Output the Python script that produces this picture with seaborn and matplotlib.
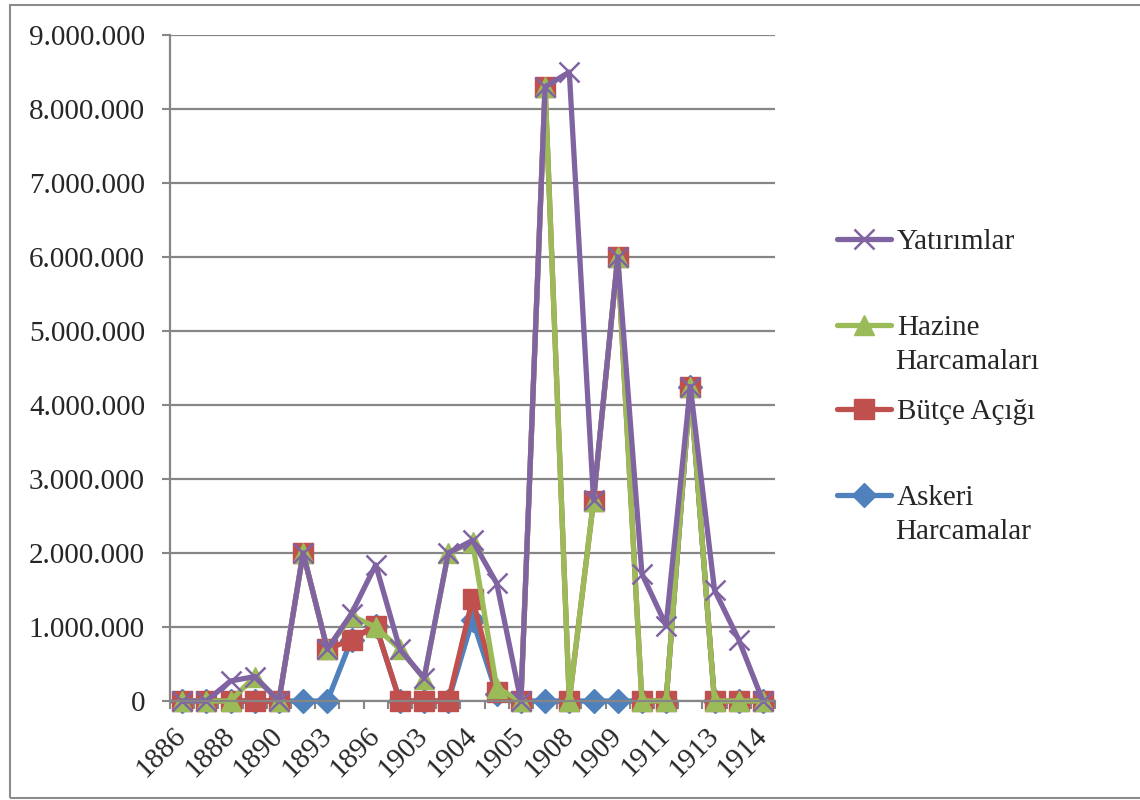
import matplotlib
matplotlib.use("Agg")
import matplotlib.pyplot as plt
from matplotlib.lines import Line2D
from matplotlib.patches import Rectangle
from matplotlib.ticker import FuncFormatter, FixedLocator
import seaborn as sns
import pandas as pd
import numpy as np

# ---------------- data ----------------
years = ["1886", "1887", "1888", "1889", "1890", "1891", "1893", "1894", "1896",
         "1902", "1903", "1903", "1904", "1904", "1905", "1907", "1908", "1908",
         "1909", "1910", "1911", "1912", "1913", "1913", "1914"]

yatirimlar = [0, 0, 270000, 330000, 0, 2000000, 700000, 1180000, 1840000, 700000,
              310000, 2000000, 2170000, 1590000, 0, 8300000, 8500000, 2720000,
              6000000, 1720000, 1020000, 4250000, 1500000, 830000, 0]
hazine = [0, 0, 0, 330000, 0, 2000000, 700000, 1150000, 1000000, 700000,
          300000, 2000000, 2150000, 180000, 0, 8300000, 0, 2700000,
          6000000, 0, 0, 4250000, 0, 0, 0]
butce = [0, 0, 0, 0, 0, 2000000, 700000, 830000, 1020000, 0,
         0, 0, 1380000, 120000, 0, 8300000, 0, 2700000,
         6000000, 0, 0, 4250000, 0, 0, 0]
askeri = [0, 0, 0, 0, 0, 0, 0, 830000, 1020000, 0,
          0, 0, 1100000, 100000, 0, 0, 0, 0,
          0, 0, 0, 4250000, 0, 0, 0]

series_names = ["Askeri\nHarcamalar", "Bütçe Açığı", "Hazine\nHarcamaları", "Yatırımlar"]
series_values = [askeri, butce, hazine, yatirimlar]
y_ticks = [0, 1000000, 2000000, 3000000, 4000000, 5000000, 6000000, 7000000, 8000000, 9000000]

# ---------------- style ----------------
sns.set_theme(style="white")
plt.rcParams["font.family"] = ["Liberation Serif", "DejaVu Serif"]
FS = 21
GRID = "#868686"

colors = ["#4F81BD", "#C0504D", "#9BBB59", "#8064A2"]
markers = ["D", "s", "^", "x"]
msizes = [12, 14, 14, 14]
mews = [1, 1, 1, 1.8]

fig = plt.figure(figsize=(11.4, 8), dpi=100)
ax = fig.add_axes([170 / 1140, 1 - 701 / 800, (775 - 170) / 1140, (701 - 35) / 800])

x_idx = np.arange(len(years))
for name, vals, c, m, ms, mew in zip(series_names, series_values, colors, markers, msizes, mews):
    df = pd.DataFrame({"idx": x_idx, "value": vals})
    sns.lineplot(data=df, x="idx", y="value", ax=ax, color=c, linewidth=3.8,
                 marker=m, markersize=ms, markeredgecolor=c, markeredgewidth=mew,
                 markerfacecolor=c, estimator=None, sort=False, legend=False,
                 solid_joinstyle="round", solid_capstyle="round")
for ln in ax.get_lines():
    ln.set_clip_on(False)

ax.set_xlim(-0.5, len(years) - 0.5)
ax.set_ylim(0, 9000000)
ax.set_xlabel("")
ax.set_ylabel("")

# y axis
ax.yaxis.set_major_locator(FixedLocator(y_ticks))
ax.yaxis.set_major_formatter(FuncFormatter(lambda v, p: f"{int(v):,}".replace(",", ".")))
ax.grid(axis="y", color=GRID, linewidth=1.6, zorder=0)
ax.set_axisbelow(True)
ax.tick_params(axis="y", which="major", direction="out", length=6, width=1.5,
               color=GRID, labelsize=FS, pad=12, left=True)

# x axis: labels on every other category, tick marks between categories
ax.set_xticks(x_idx[::2])
ax.set_xticklabels(years[::2])
ax.set_xticks(np.arange(-0.5, len(years), 1.0), minor=True)
ax.tick_params(axis="x", which="major", length=0, labelsize=FS, pad=22)
ax.tick_params(axis="x", which="minor", direction="out", length=6, width=1.5,
               color=GRID, bottom=True)
for lab in ax.get_xticklabels():
    lab.set_rotation(45)
    lab.set_ha("right")
    lab.set_va("center")
    lab.set_rotation_mode("anchor")

for s in ["top", "right"]:
    ax.spines[s].set_visible(False)
for s in ["left", "bottom"]:
    ax.spines[s].set_color(GRID)
    ax.spines[s].set_linewidth(1.6)

# ---------------- legend (one entry per block, Excel-like positions) ----------------
legend_rows = [
    (3, "Yatırımlar", None, 241.7),
    (2, "Hazine", "Harcamaları", 328),
    (1, "Bütçe Açığı", None, 411.7),
    (0, "Askeri", "Harcamalar", 498),
]
for i, first, second, ypix in legend_rows:
    h = Line2D([], [], color=colors[i], linewidth=3.8, marker=markers[i],
               markersize=msizes[i], markeredgecolor=colors[i],
               markerfacecolor=colors[i], markeredgewidth=mews[i],
               solid_capstyle="round")
    leg = fig.legend(handles=[h], labels=[first], loc="center left",
                     bbox_to_anchor=(837 / 1140, 1 - ypix / 800),
                     frameon=False, borderpad=0, borderaxespad=0,
                     handlelength=53 / 28.5, handletextpad=0.2, fontsize=FS)
    if second:
        fig.text(895 / 1140, 1 - (ypix + 34) / 800, second, fontsize=FS,
                 ha="left", va="center")

# outer chart border
fig.patches.append(Rectangle((10 / 1140, 2 / 800), 1.2, 1 - 7 / 800,
                             transform=fig.transFigure, fill=False,
                             edgecolor="#8c8c8c", linewidth=1.5))

fig.savefig("out.png", dpi=100)
